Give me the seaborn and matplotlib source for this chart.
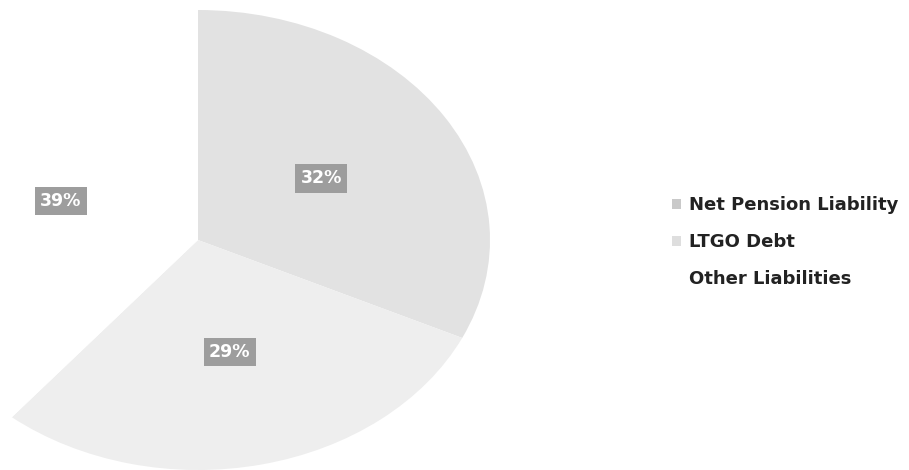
import matplotlib
matplotlib.use("Agg")
import matplotlib.pyplot as plt
import seaborn as sns

labels = ["Net Pension Liability", "LTGO Debt", "Other Liabilities"]
shares = [32, 29, 39]
slice_colors = ["#e2e2e2", "#eeeeee", "#ffffff"]

sns.set_theme(style="white")
plt.rcParams["font.family"] = ["DejaVu Sans"]

fig = plt.figure(figsize=(9.09, 4.70), dpi=100)
# the scanned pie is squashed into an ellipse, so the axes is stretched
ax = fig.add_axes([-94 / 909, 0.0, 584 / 909, 460 / 470])

wedges, texts, autotexts = ax.pie(
    shares,
    colors=slice_colors,
    startangle=90,
    counterclock=False,
    radius=1.0,
    autopct="%d%%",
    pctdistance=0.5,
    wedgeprops=dict(linewidth=0),
    textprops=dict(color="white", fontsize=12.5, fontweight="bold"),
)
for t in autotexts:
    t.set_bbox(dict(boxstyle="square,pad=0.3", facecolor="#9d9d9d", edgecolor="none"))

ax.set_aspect("auto")
ax.set_xlim(-1, 1)
ax.set_ylim(-1, 1)
ax.axis("off")

leg = fig.legend(
    wedges, labels,
    loc="upper left",
    bbox_to_anchor=(656 / 909, 1 - 180 / 470),
    frameon=False,
    handlelength=0.5,
    handleheight=0.5,
    handletextpad=0.45,
    labelspacing=1.05,
    prop=dict(size=13, weight="bold"),
)
for txt in leg.get_texts():
    txt.set_color("#222222")
for h, c in zip(leg.legend_handles, ["#c9c9c9", "#dedede", "#ffffff"]):
    h.set_facecolor(c)

fig.savefig("out.png", dpi=100)
